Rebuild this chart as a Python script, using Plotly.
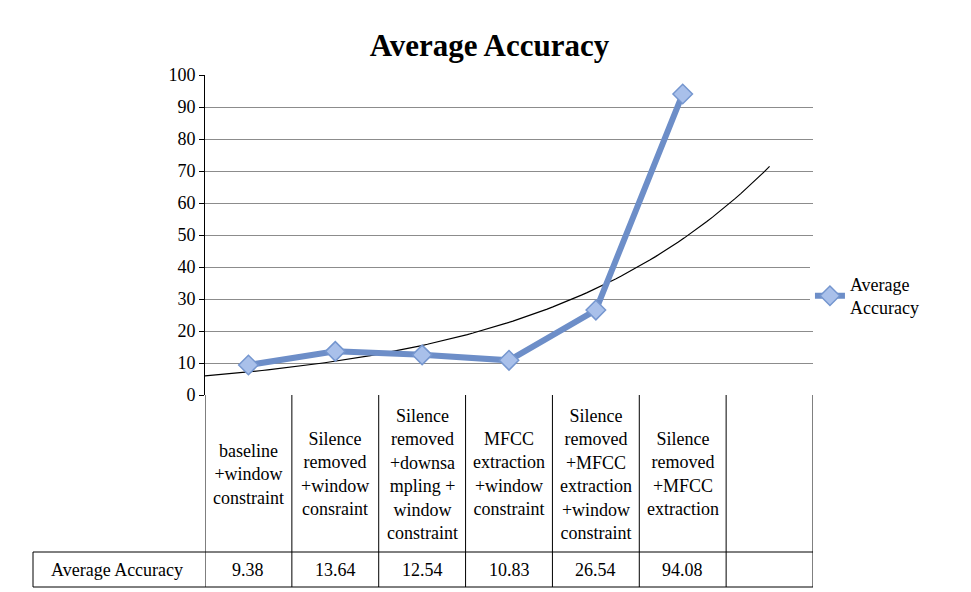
import numpy as np
import plotly.graph_objects as go

categories = [
    "baseline<br>+window<br>constraint",
    "Silence<br>removed<br>+window<br>consraint",
    "Silence<br>removed<br>+downsa<br>mpling +<br>window<br>constraint",
    "MFCC<br>extraction<br>+window<br>constraint",
    "Silence<br>removed<br>+MFCC<br>extraction<br>+window<br>constraint",
    "Silence<br>removed<br>+MFCC<br>extraction",
]
accuracy = [9.38, 13.64, 12.54, 10.83, 26.54, 94.08]
series_name = "Average Accuracy"

xs = np.arange(1, len(accuracy) + 1)
# exponential trendline fitted to the data
b, lna = np.polyfit(xs, np.log(accuracy), 1)
tx = np.linspace(0.5, 7.0, 100)
ty = np.exp(lna) * np.exp(b * tx)

font = "Liberation Serif"
fig = go.Figure()
fig.add_trace(go.Scatter(x=tx, y=ty, mode="lines", line=dict(color="black", width=1.2),
                         showlegend=False, hoverinfo="skip"))
fig.add_trace(go.Scatter(x=xs, y=accuracy, mode="lines+markers", name="Average<br>Accuracy",
                         line=dict(color="#6d8ec8", width=6),
                         marker=dict(symbol="diamond", size=15, color="#a9c0ea",
                                     line=dict(color="#7596cf", width=1.5))))

# data table below the plot (screen pixel helpers; page has an 8px body margin)
W, H = 608, 320
def px(p):
    return (p - 205) / W
def py(p):
    return (395 - p) / H

line = dict(color="black", width=1)
for i in range(8):
    x = i + 0.5
    fig.add_shape(type="line", xref="x", yref="paper", x0=x, x1=x, y0=py(395), y1=py(587), line=line)
fig.add_shape(type="line", xref="paper", yref="paper", x0=px(33), x1=1, y0=py(552), y1=py(552), line=line)
fig.add_shape(type="line", xref="paper", yref="paper", x0=px(33), x1=1, y0=py(587), y1=py(587), line=line)
fig.add_shape(type="line", xref="paper", yref="paper", x0=px(33), x1=px(33), y0=py(552), y1=py(587), line=line)

for i, (c, v) in enumerate(zip(categories, accuracy)):
    nl = c.count("<br>") + 1
    fig.add_annotation(x=i + 1, y=py(474), xref="x", yref="paper", text=c, showarrow=False,
                       xanchor="center", yanchor="middle",
                       font=dict(family=font, size=18, color="black"))
    fig.add_annotation(x=i + 1, y=py(570), xref="x", yref="paper", text=f"{v:.2f}", showarrow=False,
                       xanchor="center", yanchor="middle",
                       font=dict(family=font, size=18, color="black"))
fig.add_annotation(x=px(117), y=py(570), xref="paper", yref="paper", text=series_name, showarrow=False,
                   xanchor="center", yanchor="middle",
                   font=dict(family=font, size=18, color="black"))

fig.update_layout(
    width=963, height=584,
    margin=dict(l=197, r=158, t=67, b=197),
    paper_bgcolor="white", plot_bgcolor="white",
    title=dict(text="<b>Average Accuracy</b>", x=0.5, xanchor="center", y=0.955,
               font=dict(family=font, size=31, color="black")),
    xaxis=dict(range=[0.5, 7.5], showticklabels=False, showgrid=False, zeroline=False,
               showline=False),
    yaxis=dict(range=[0, 100], dtick=10, showgrid=True, gridcolor="#8c8c8c", zeroline=False,
               showline=True, linecolor="black", ticks="outside", ticklen=5, tickcolor="black",
               tickfont=dict(family=font, size=18, color="black")),
    legend=dict(x=0.995, y=0.31, xanchor="left", yanchor="middle",
                font=dict(family=font, size=18, color="black")),
)

fig.write_html("out.html")
